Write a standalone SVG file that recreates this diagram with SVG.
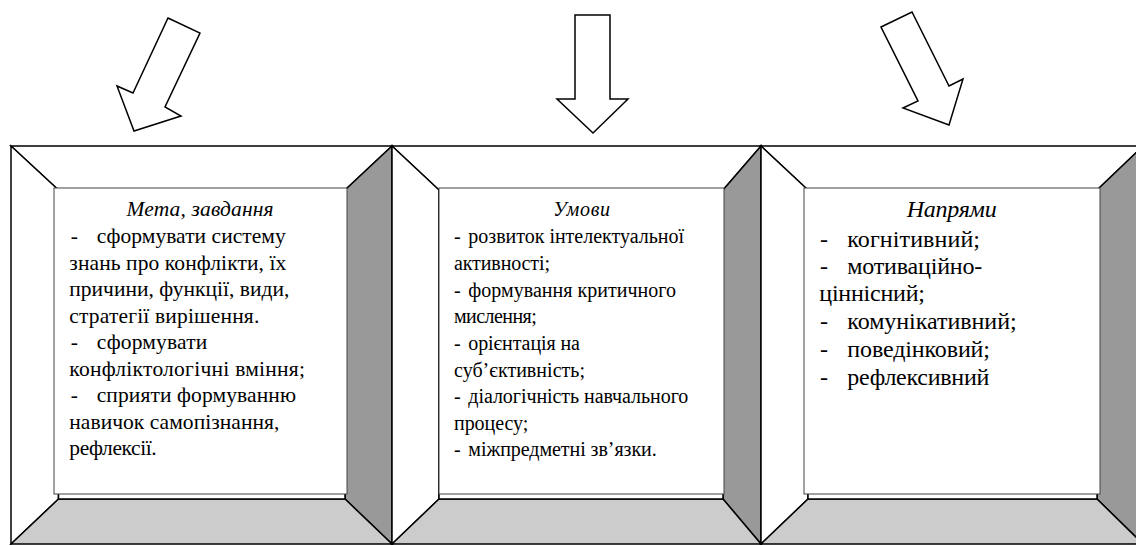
<svg xmlns="http://www.w3.org/2000/svg" width="1136" height="545" viewBox="0 0 1136 545">
<style>
.edge{stroke:#000;stroke-width:1.5;stroke-linejoin:miter}
.w{fill:#fff}
.dk{fill:#999}
.lt{fill:#ccc}
.tb{fill:#fff;stroke:#444;stroke-width:1}
.arr{fill:#fff;stroke:#000;stroke-width:1.5;stroke-linejoin:miter}
.ti{font-style:italic;text-anchor:middle}
</style>
<rect width="1136" height="545" fill="#fff"/>
<g id="connectors">
<polygon class="arr" points="168,18 200,33 165,107 181,116 134,131 117,86 133,93"/>
<polygon class="arr" points="575,15 610,15 610,99 628,99 593,133 557,99 575,99"/>
<polygon class="arr" points="881,27 912,12 949,86 963,79 949,125 903,108 918,101"/>
</g>
<g id="box1" font-family="'Liberation Serif', 'Times New Roman', serif" font-size="21.5">
<polygon class="edge w" points="11,146 392,146 345,190 58.5,190"/>
<polygon class="edge w" points="11,146 58.5,190 58.5,499 11,544"/>
<polygon class="edge dk" points="392,146 392,544 345,499 345,190"/>
<polygon class="edge lt" points="11,544 58.5,499 345,499 392,544"/>
<rect class="edge w" x="58.5" y="190" width="286.5" height="309"/>
<rect class="tb" x="54" y="188" width="293" height="306"/>
<text class="ti" x="200" y="215.5" textLength="147" lengthAdjust="spacing">Мета, завдання</text>
<text x="70.7" y="243">-</text>
<text x="96.7" y="243" textLength="189" lengthAdjust="spacing">сформувати систему</text>
<text x="69.3" y="269.5" textLength="217" lengthAdjust="spacing">знань про конфлікти, їх</text>
<text x="69.3" y="296" textLength="220" lengthAdjust="spacing">причини, функції, види,</text>
<text x="69.3" y="322.5" textLength="190" lengthAdjust="spacing">стратегії вирішення.</text>
<text x="70.7" y="349">-</text>
<text x="96.7" y="349" textLength="110.6" lengthAdjust="spacing">сформувати</text>
<text x="69.3" y="375.5" textLength="235.7" lengthAdjust="spacing">конфліктологічні вміння;</text>
<text x="70.7" y="402">-</text>
<text x="96.7" y="402" textLength="199.3" lengthAdjust="spacing">сприяти формуванню</text>
<text x="69.3" y="428.5" textLength="210" lengthAdjust="spacing">навичок самопізнання,</text>
<text x="69.3" y="455" textLength="87.4" lengthAdjust="spacing">рефлексії.</text>
</g>
<g id="box2" font-family="'Liberation Serif', 'Times New Roman', serif" font-size="20">
<polygon class="edge w" points="392,146 761,146 723,190 439,190"/>
<polygon class="edge w" points="392,146 439,190 439,499 392,544"/>
<polygon class="edge dk" points="761,146 761,544 723,499 723,190"/>
<polygon class="edge lt" points="392,544 439,499 723,499 761,544"/>
<rect class="edge w" x="439" y="190" width="284" height="309"/>
<rect class="tb" x="439" y="188" width="285" height="306"/>
<text class="ti" x="581.7" y="216" textLength="56.7" lengthAdjust="spacing">Умови</text>
<text x="454" y="242.7">-</text>
<text x="468.3" y="242.7" textLength="215.7" lengthAdjust="spacing">розвиток інтелектуальної</text>
<text x="454" y="269.7" textLength="96" lengthAdjust="spacing">активності;</text>
<text x="454" y="296.5">-</text>
<text x="468.3" y="296.5" textLength="207.7" lengthAdjust="spacing">формування критичного</text>
<text x="454" y="323" textLength="82.7" lengthAdjust="spacing">мислення;</text>
<text x="454" y="349.6">-</text>
<text x="468.3" y="349.6" textLength="111.7" lengthAdjust="spacing">орієнтація на</text>
<text x="454" y="376.5" textLength="131" lengthAdjust="spacing">суб’єктивність;</text>
<text x="454" y="403">-</text>
<text x="468.3" y="403" textLength="220" lengthAdjust="spacing">діалогічність навчального</text>
<text x="454" y="430" textLength="74.3" lengthAdjust="spacing">процесу;</text>
<text x="454" y="456.4">-</text>
<text x="468.3" y="456.4" textLength="188.4" lengthAdjust="spacing">міжпредметні зв’язки.</text>
</g>
<g id="box3" font-family="'Liberation Serif', 'Times New Roman', serif" font-size="24">
<polygon class="edge w" points="761,146 1143,146 1097,190 808,190"/>
<polygon class="edge w" points="761,146 808,190 808,499 761,544"/>
<polygon class="edge dk" points="1143,146 1143,544 1097,499 1097,190"/>
<polygon class="edge lt" points="761,544 808,499 1097,499 1143,544"/>
<rect class="edge w" x="808" y="190" width="289" height="309"/>
<rect class="tb" x="804" y="188" width="296" height="306"/>
<text class="ti" x="951.7" y="217.3" textLength="90" lengthAdjust="spacing">Напрями</text>
<text x="820" y="246.7">-</text>
<text x="847.3" y="246.7" textLength="132.7" lengthAdjust="spacing">когнітивний;</text>
<text x="820" y="274">-</text>
<text x="847.3" y="274" textLength="135" lengthAdjust="spacing">мотиваційно-</text>
<text x="819.3" y="300.7" textLength="105.7" lengthAdjust="spacing">ціннісний;</text>
<text x="820" y="329.3">-</text>
<text x="847.3" y="329.3" textLength="169.3" lengthAdjust="spacing">комунікативний;</text>
<text x="820" y="356.7">-</text>
<text x="847.3" y="356.7" textLength="142.7" lengthAdjust="spacing">поведінковий;</text>
<text x="820" y="385">-</text>
<text x="847.3" y="385" textLength="142" lengthAdjust="spacing">рефлексивний</text>
</g>
</svg>
